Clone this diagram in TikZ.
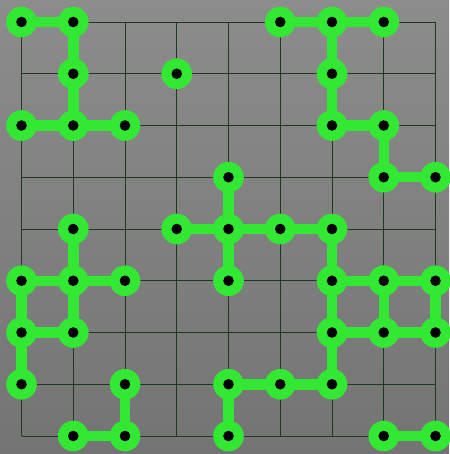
\documentclass[tikz,border=0pt]{standalone}
\definecolor{bgtop}{RGB}{140,140,140}
\definecolor{bgbot}{RGB}{116,116,116}
\definecolor{gridc}{RGB}{28,58,28}
\definecolor{lime}{RGB}{50,232,50}
\tikzset{
  gridline/.style={draw=gridc, line width=0.9pt},
  pin/.style={circle, fill=lime, minimum size=30.6pt, inner sep=0pt, outer sep=0pt,
    path picture={\fill[black] (path picture bounding box.center) circle (5.3pt);}},
  link/.style={draw=lime, line width=10.5pt}
}
\begin{document}
\begin{tikzpicture}[x=1pt, y=-1pt]
\shade[top color=bgtop, bottom color=bgbot] (0,0) rectangle (449,454);
\useasboundingbox (0,0) rectangle (449,454);
\def\gx{21.5}\def\gy{22}\def\gs{51.75}
\foreach \i in {0,...,8} {
  \draw[gridline] ({\gx+\i*\gs},\gy) -- ({\gx+\i*\gs},{\gy+8*\gs});
  \draw[gridline] (\gx,{\gy+\i*\gs}) -- ({\gx+8*\gs},{\gy+\i*\gs});
}
\foreach \c/\r in {0/0,1/0,5/0,6/0,7/0,
                   1/1,3/1,6/1,
                   0/2,1/2,2/2,6/2,7/2,
                   4/3,7/3,8/3,
                   1/4,3/4,4/4,5/4,6/4,
                   0/5,1/5,2/5,4/5,6/5,7/5,8/5,
                   0/6,1/6,6/6,7/6,8/6,
                   0/7,2/7,4/7,5/7,6/7,
                   1/8,2/8,4/8,7/8,8/8} {
  \coordinate (c-\c-\r) at ({\gx+\c*\gs},{\gy+\r*\gs});
}
\foreach \a/\b in {0-0/1-0, 1-0/1-1, 1-1/1-2, 0-2/1-2, 1-2/2-2,
                   5-0/6-0, 6-0/7-0, 6-0/6-1, 6-1/6-2, 6-2/7-2, 7-2/7-3, 7-3/8-3,
                   4-3/4-4, 3-4/4-4, 4-4/5-4, 5-4/6-4, 4-4/4-5,
                   6-4/6-5, 6-5/7-5, 7-5/8-5, 6-5/6-6, 7-5/7-6, 8-5/8-6,
                   6-6/7-6, 7-6/8-6, 6-6/6-7, 5-7/6-7, 4-7/5-7, 4-7/4-8,
                   7-8/8-8,
                   1-4/1-5, 0-5/1-5, 1-5/2-5, 1-5/1-6, 0-5/0-6, 0-6/1-6, 0-6/0-7,
                   2-7/2-8, 1-8/2-8} {
  \draw[link] (c-\a) -- (c-\b);
}
\foreach \c/\r in {0/0,1/0,5/0,6/0,7/0,
                   1/1,3/1,6/1,
                   0/2,1/2,2/2,6/2,7/2,
                   4/3,7/3,8/3,
                   1/4,3/4,4/4,5/4,6/4,
                   0/5,1/5,2/5,4/5,6/5,7/5,8/5,
                   0/6,1/6,6/6,7/6,8/6,
                   0/7,2/7,4/7,5/7,6/7,
                   1/8,2/8,4/8,7/8,8/8} {
  \node[pin] (n-\c-\r) at (c-\c-\r) {};
}
\end{tikzpicture}
\end{document}
